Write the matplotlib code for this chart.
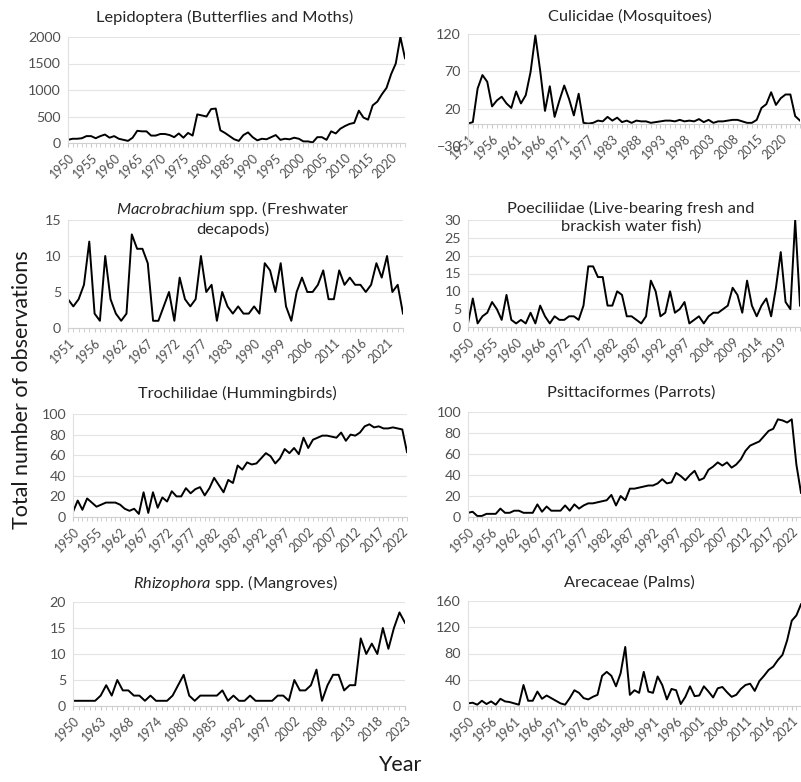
import matplotlib.pyplot as plt

W, H = 801, 782

plt.rcParams['font.family'] = ['Lato', 'DejaVu Sans']
plt.rcParams['mathtext.fontset'] = 'custom'
plt.rcParams['mathtext.rm'] = 'Lato'
plt.rcParams['mathtext.it'] = 'Lato:italic'

# --- data (category axes: only the years that have records) ---
lepi_missing = []
lepi_counts = [60, 80, 80, 90, 130, 130, 90, 130, 160, 100, 130, 80, 60, 40, 100,
               230, 220, 220, 140, 140, 170, 170, 150, 110, 180, 100, 190, 140, 540, 520,
               500, 640, 650, 240, 190, 130, 70, 40, 150, 200, 110, 50, 80, 70, 110,
               150, 60, 80, 70, 100, 80, 30, 30, 10, 110, 110, 60, 220, 180, 270,
               320, 360, 380, 610, 480, 440, 710, 780, 920, 1040, 1300, 1500, 2000, 1600]

culi_missing = [1950, 1973, 1979, 2010, 2012]
culi_counts = [0, 2, 47, 65, 56, 23, 31, 36, 27, 21, 43, 27, 38, 69, 118,
               71, 17, 50, 9, 31, 51, 33, 11, 40, 1, 0, 1, 4, 3, 9,
               4, 8, 2, 4, 1, 4, 3, 3, 1, 2, 3, 4, 4, 3, 5,
               3, 4, 3, 6, 2, 5, 1, 3, 3, 4, 5, 5, 3, 1, 1,
               5, 21, 26, 42, 25, 34, 39, 39, 10, 4]

macro_missing = [1950, 1960, 1981, 1986, 1988, 1992, 1994, 1996, 1998, 2001, 2004]
macro_counts = [4, 3, 4, 6, 12, 2, 1, 10, 4, 2, 1, 2, 13, 11, 11,
                9, 1, 1, 3, 5, 1, 7, 4, 3, 4, 10, 5, 6, 1, 5,
                3, 2, 3, 2, 2, 3, 2, 9, 8, 5, 9, 3, 1, 5, 7,
                5, 5, 6, 8, 4, 4, 8, 6, 7, 6, 6, 5, 6, 9, 7,
                10, 5, 6, 2]

poec_missing = [1964, 1970, 1999, 2002]
poec_counts = [1, 8, 1, 3, 4, 7, 5, 2, 9, 2, 1, 2, 1, 4, 1,
               6, 3, 1, 3, 2, 2, 3, 3, 2, 6, 17, 17, 14, 14, 6,
               6, 10, 9, 3, 3, 2, 1, 3, 13, 10, 3, 4, 10, 4, 5,
               7, 1, 2, 3, 1, 3, 4, 4, 5, 6, 11, 9, 4, 13, 6,
               3, 6, 8, 3, 11, 21, 7, 5, 30, 6]

troc_missing = [1956, 1959]
troc_counts = [5, 16, 7, 18, 14, 10, 12, 14, 14, 14, 12, 8, 6, 8, 3,
               24, 4, 24, 9, 19, 15, 25, 20, 20, 28, 23, 27, 29, 21, 28,
               38, 31, 24, 36, 33, 50, 46, 53, 51, 52, 57, 62, 59, 52, 57,
               66, 62, 67, 61, 77, 67, 75, 77, 79, 79, 78, 77, 82, 74, 80,
               79, 82, 88, 90, 87, 88, 86, 86, 87, 86, 85, 63]

psit_missing = [1954, 1960]
psit_counts = [4, 5, 1, 1, 3, 3, 3, 8, 4, 4, 6, 6, 4, 4, 4,
               12, 5, 10, 6, 6, 6, 11, 6, 12, 8, 11, 13, 13, 14, 15,
               16, 21, 11, 20, 16, 27, 27, 28, 29, 30, 30, 32, 36, 32, 33,
               42, 39, 35, 40, 44, 35, 37, 45, 48, 52, 49, 52, 47, 50, 55,
               63, 68, 70, 72, 77, 82, 84, 93, 92, 90, 93, 50, 23]

rhiz_missing = [1951, 1952, 1953, 1954, 1956, 1957, 1959, 1961, 1972, 1978,
                1987, 1990, 2006]
rhiz_counts = [1, 1, 1, 1, 1, 2, 4, 2, 5, 3, 3, 2, 2, 1, 2,
               1, 1, 1, 2, 4, 6, 2, 1, 2, 2, 2, 2, 3, 1, 2,
               1, 1, 2, 1, 1, 1, 1, 2, 2, 1, 5, 3, 3, 4, 7,
               1, 4, 6, 6, 3, 4, 4, 13, 10, 12, 10, 15, 11, 15, 18,
               16]

arec_missing = [1953]
arec_counts = [4, 5, 2, 8, 3, 7, 2, 11, 7, 6, 4, 2, 32, 8, 8,
               22, 11, 16, 12, 8, 4, 2, 12, 24, 20, 12, 10, 14, 17, 46,
               52, 46, 30, 50, 90, 17, 24, 20, 52, 22, 20, 45, 32, 10, 26,
               24, 3, 14, 30, 15, 16, 30, 22, 13, 27, 29, 21, 14, 17, 26,
               32, 34, 23, 38, 46, 55, 60, 70, 78, 100, 130, 138, 155]


def category_years(missing, n):
    ys = [y for y in range(1950, 2030) if y not in missing]
    return ys[:n]


fig = plt.figure(figsize=(W / 100, H / 100), dpi=100)


def panel(box, counts, missing, yticks, title, title_xy, zero_axis=False):
    l, t, r, b = box
    ax = fig.add_axes([l / W, 1 - b / H, (r - l) / W, (b - t) / H])
    # moving the spine resets the ticks, so do it first
    if zero_axis:
        ax.spines['bottom'].set_position(('data', 0))
    years = category_years(missing, len(counts))
    x = list(range(len(counts)))
    ax.plot(x, counts, color='black', lw=1.4)
    ax.set_xlim(0, len(counts) - 1)
    ax.set_ylim(yticks[0], yticks[-1])
    ax.set_yticks(yticks)
    major = list(range(0, len(years), 5))
    ax.set_xticks(major)
    ax.set_xticklabels([str(years[i]) for i in major], rotation=45, ha='right',
                       va='top', rotation_mode='anchor', fontsize=9, color='#505050')
    ax.set_xticks(x, minor=True)
    ax.grid(axis='y', color='#e4e4e4', lw=0.8)
    ax.set_axisbelow(True)
    for s in ['top', 'right']:
        ax.spines[s].set_visible(False)
    ax.spines['left'].set_color('#e0e0e0')
    ax.spines['bottom'].set_color('#d0d0d0')
    ax.tick_params(axis='x', which='both', length=3, color='#c8c8c8', pad=3)
    ax.tick_params(axis='y', length=0, labelsize=10.3, labelcolor='#505050', pad=5)
    fig.text(title_xy[0] / W, 1 - title_xy[1] / H, title, ha='center', va='center',
             fontsize=11.8, color='#262626', linespacing=1.3)
    return ax


panel((68, 37, 405, 143), lepi_counts, lepi_missing, [0, 500, 1000, 1500, 2000],
      'Lepidoptera (Butterflies and Moths)', (225, 17))
panel((468, 34, 800, 146), culi_counts, culi_missing, [-30, 20, 70, 120],
      'Culicidae (Mosquitoes)', (630, 16), zero_axis=True)
panel((68, 220, 403, 328), macro_counts, macro_missing, [0, 5, 10, 15],
      '$\\it{Macrobrachium}$ spp. (Freshwater\ndecapods)', (233, 218))
panel((468, 220, 800, 327), poec_counts, poec_missing, [0, 5, 10, 15, 20, 25, 30],
      'Poeciliidae (Live-bearing fresh and\nbrackish water fish)', (631, 217))
panel((73, 414, 407, 517), troc_counts, troc_missing, [0, 20, 40, 60, 80, 100],
      'Trochilidae (Hummingbirds)', (237, 393))
panel((468, 412, 801, 517), psit_counts, psit_missing, [0, 20, 40, 60, 80, 100],
      'Psittaciformes (Parrots)', (631, 393))
panel((73, 602, 405, 706), rhiz_counts, rhiz_missing, [0, 5, 10, 15, 20],
      '$\\it{Rhizophora}$ spp. (Mangroves)', (236, 583))
panel((468, 601, 801, 706), arec_counts, arec_missing, [0, 40, 80, 120, 160],
      'Arecaceae (Palms)', (629, 583))

fig.text(22 / W, 1 - 390 / H, 'Total number of observations', rotation=90,
         ha='center', va='center', fontsize=15.5, color='#1a1a1a')
fig.text(400 / W, 1 - 765 / H, 'Year', ha='center', va='center', fontsize=15.5,
         color='#1a1a1a')

fig.savefig('out.png', dpi=100)
